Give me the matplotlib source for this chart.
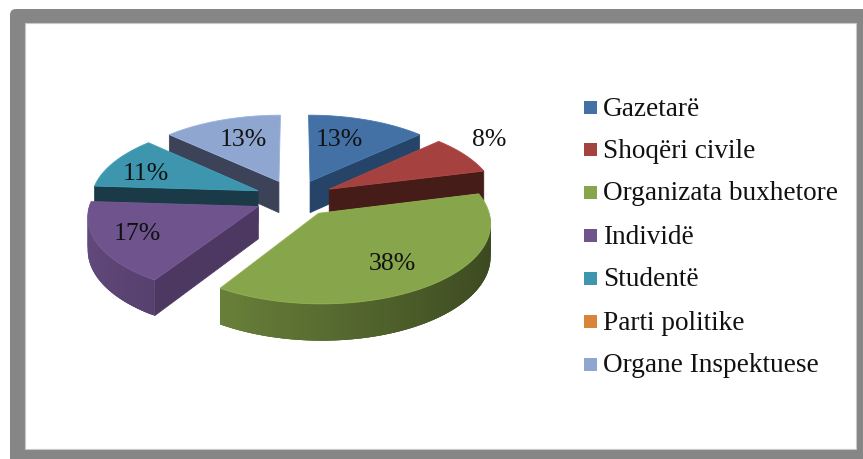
"""Exploded 3D style pie chart with a legend on the right"""
import numpy as np
import matplotlib
matplotlib.use("Agg")
import matplotlib.pyplot as plt
from matplotlib.colors import to_rgb
from matplotlib.patches import FancyBboxPatch, Polygon, Rectangle

categories = ["Gazetarë", "Shoqëri civile", "Organizata buxhetore", "Individë",
              "Studentë", "Parti politike", "Organe Inspektuese"]
values = [13, 8, 38, 17, 11, 0, 13]
value_labels = ["13%", "8%", "38%", "17%", "11%", "", "13%"]
colors = ["#4371a6", "#a5423f", "#87a54a", "#6f538d", "#3d96ad", "#da843a", "#8fa7d0"]
side_colors = ["#264468", "#451c18", "#3a451b", "#4c3860", "#1a3a48", "#7a4a1e", "#3c4358"]

# projection of the pie disk to pixels
CX, CY, RX, RY, K = 294.5, 198.0, 167.0, 77.0, 0.11
EXPLODE = 0.24
DEPTH = 32.0
label_xy = [(339, 140), (489, 140), (392, 264), (137, 234), (146, 174), None, (243, 140)]
legend_y = [108, 150, 193, 236, 279, 322, 365]
FONT = "Liberation Serif"


def project(x, y, z=0.0):
    s = 1.0 / (1.0 + K * y)
    return CX + RX * x * s, CY - RY * y * s + z * s


def shade(color, factor):
    return tuple(min(1.0, c * factor) for c in to_rgb(color))


def draw_slice(ax, start, end, color, side, order):
    mid = (start + end) / 2
    ox, oy = EXPLODE * np.sin(mid), EXPLODE * np.cos(mid)
    theta = np.linspace(start, end, 80)
    xs = ox + np.sin(theta)
    ys = oy + np.cos(theta)

    # radial faces which look at the viewer
    for a, visible in ((start, np.sin(start) < 0), (end, np.sin(end) > 0)):
        if not visible:
            continue
        ex, ey = ox + np.sin(a), oy + np.cos(a)
        pts = [project(ox, oy), project(ex, ey), project(ex, ey, DEPTH), project(ox, oy, DEPTH)]
        ax.add_patch(Polygon(pts, closed=True, fc=side, ec=side, lw=0.5, zorder=order))

    # outer wall, shaded from left to right, quads overlap so no seams show
    for i in range(len(theta) - 1):
        if np.cos((theta[i] + theta[i + 1]) / 2) > 0.02:
            continue
        factor = 0.66 - 0.22 * np.sin(theta[i])
        c = shade(color, factor)
        j = min(i + 3, len(theta) - 1)
        pts = [project(xs[i], ys[i]), project(xs[j], ys[j]),
               project(xs[j], ys[j], DEPTH), project(xs[i], ys[i], DEPTH)]
        ax.add_patch(Polygon(pts, closed=True, fc=c, ec="none", zorder=order))

    # top surface
    top = [project(ox, oy)] + [project(x, y) for x, y in zip(xs, ys)]
    ax.add_patch(Polygon(top, closed=True, fc=color, ec=shade(color, 1.08), lw=0.6, zorder=order + 0.5))


fig = plt.figure(figsize=(8.63, 4.59), dpi=100)
ax = fig.add_axes([0, 0, 1, 1])
ax.set_xlim(0, 863)
ax.set_ylim(459, 0)
ax.axis("off")

# grey frame
ax.add_patch(FancyBboxPatch((15, 14), 880, 480, boxstyle="round,pad=5,rounding_size=6",
                            fc="#868686", ec="none", zorder=0))
ax.add_patch(Rectangle((25, 23), 831, 426, fc="white", ec="#c8c8c8", lw=0.8, zorder=0.5))

fractions = np.array(values) / sum(values)
edges = np.concatenate([[0], np.cumsum(fractions)]) * 2 * np.pi

# back slices first, the green one last
for n, i in enumerate([6, 0, 4, 1, 3, 2]):
    draw_slice(ax, edges[i], edges[i + 1], colors[i], side_colors[i], 2 + n)

for xy, label in zip(label_xy, value_labels):
    if xy is not None:
        ax.text(xy[0], xy[1], label, ha="center", va="center", fontsize=18.5,
                family=FONT, color="#111111", zorder=20)

for y, name, color in zip(legend_y, categories, colors):
    ax.add_patch(Rectangle((583.5, y - 7.5), 13.5, 13.5, fc=color, ec="none", zorder=3))
    ax.text(603, y + 1, name, ha="left", va="center", fontsize=19.6,
            family=FONT, color="#111111", zorder=3)

fig.savefig("out.png", dpi=100)
